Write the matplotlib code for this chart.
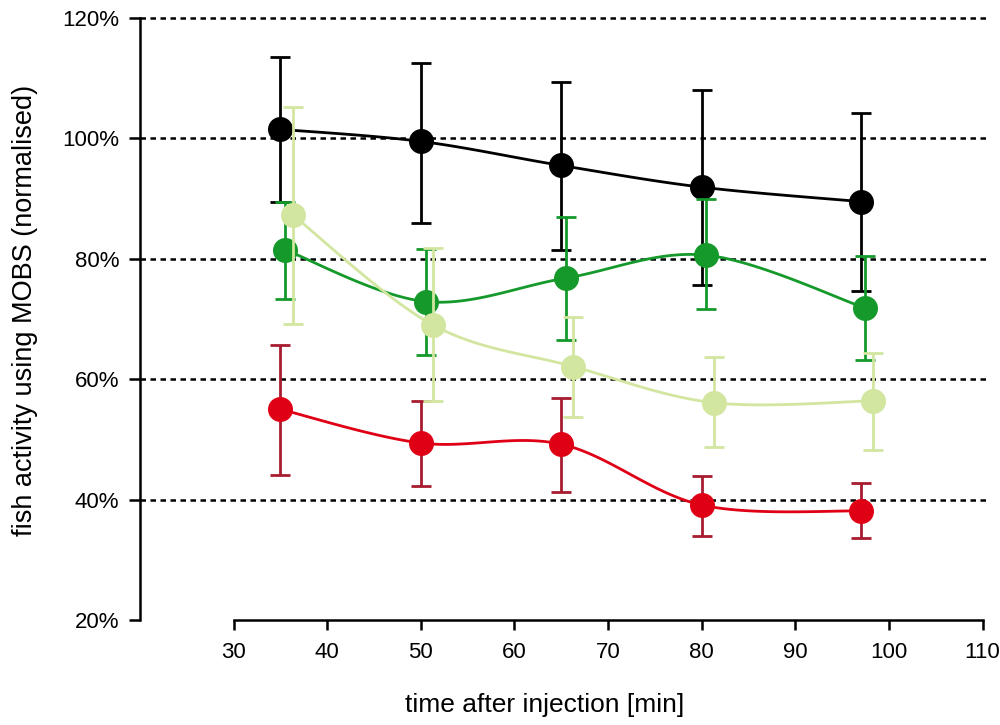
import numpy as np
import matplotlib
matplotlib.use("Agg")
import matplotlib.pyplot as plt
from matplotlib.ticker import FuncFormatter

plt.rcParams['font.family'] = ['Liberation Sans', 'DejaVu Sans']

# time after injection [min]
time_min = [35, 50, 65, 80, 97]

# fish activity (%), mean / upper / lower error bar end
black_mean = [101.5, 99.5, 95.5, 91.9, 89.5]
black_hi = [113.5, 112.6, 109.4, 108.0, 104.3]
black_lo = [89.5, 86.0, 81.5, 75.6, 74.7]

green_mean = [81.5, 72.9, 76.8, 80.6, 71.8]
green_hi = [89.5, 81.7, 87.0, 89.9, 80.4]
green_lo = [73.3, 64.0, 66.5, 71.6, 63.2]

light_mean = [87.3, 69.0, 62.1, 56.1, 56.4]
light_hi = [105.2, 81.8, 70.3, 63.7, 64.4]
light_lo = [69.2, 56.3, 53.8, 48.8, 48.2]

red_mean = [55.0, 49.4, 49.2, 39.1, 38.1]
red_hi = [65.7, 56.4, 56.9, 44.0, 42.7]
red_lo = [44.1, 42.3, 41.3, 34.0, 33.6]


def smooth(x, y, n=30):
    # bezier smoothing like a spreadsheet "smoothed line"
    x = np.asarray(x, float)
    y = np.asarray(y, float)
    xs, ys = [], []
    for i in range(len(x) - 1):
        p0 = np.array([x[max(i - 1, 0)], y[max(i - 1, 0)]])
        p1 = np.array([x[i], y[i]])
        p2 = np.array([x[i + 1], y[i + 1]])
        p3 = np.array([x[min(i + 2, len(x) - 1)], y[min(i + 2, len(x) - 1)]])
        c1 = p1 + (p2 - p0) / 6
        c2 = p2 - (p3 - p1) / 6
        t = np.linspace(0, 1, n)[:, None]
        pts = ((1 - t) ** 3) * p1 + 3 * ((1 - t) ** 2) * t * c1 + 3 * (1 - t) * t ** 2 * c2 + t ** 3 * p2
        xs.extend(pts[:, 0])
        ys.extend(pts[:, 1])
    return xs, ys


fig = plt.figure(figsize=(10, 7.25), dpi=100)
ax = fig.add_axes([0.14, 0.1448, 0.85, 0.8304])

for v in [40, 60, 80, 100, 120]:
    ax.axhline(v, color='black', lw=1.8, ls=(0, (2.2, 1.8)), zorder=1, clip_on=False)

series = [
    (black_mean, black_hi, black_lo, 0.0, 'black', 'black', 'black'),
    (green_mean, green_hi, green_lo, 0.5, '#14992a', '#14992a', '#14992a'),
    (red_mean, red_hi, red_lo, 0.0, '#e00016', '#e00016', '#a81c30'),
    (light_mean, light_hi, light_lo, 1.3, '#d2e6a0', '#d2e6a0', '#d2e6a0'),
]

for k, (m, hi, lo, dx, lc, mc, ec) in enumerate(series):
    x = np.array(time_min) + dx
    m = np.array(m)
    err = [m - np.array(lo), np.array(hi) - m]
    sx, sy = smooth(x, m)
    ax.plot(sx, sy, color=lc, lw=2, zorder=2 + k * 3)
    ax.errorbar(x, m, yerr=err, fmt='none', ecolor=ec, elinewidth=2,
                capsize=7, capthick=2, zorder=3 + k * 3)
    ax.plot(x, m, 'o', color=mc, markersize=18, markeredgewidth=0, zorder=4 + k * 3)

ax.set_xlim(20, 110.8)
ax.set_ylim(20, 120)
ax.spines['top'].set_visible(False)
ax.spines['right'].set_visible(False)
ax.spines['left'].set_bounds(20, 120)
ax.spines['bottom'].set_bounds(30, 110)
ax.spines['left'].set_linewidth(1.8)
ax.spines['bottom'].set_linewidth(1.8)

ax.set_xticks(range(30, 111, 10))
ax.set_yticks(range(20, 121, 20))
ax.yaxis.set_major_formatter(FuncFormatter(lambda v, p: f'{v:.0f}%'))
ax.tick_params(axis='both', direction='out', width=1.8, labelsize=16)
ax.tick_params(axis='y', length=8, pad=7)
ax.tick_params(axis='x', length=7, pad=9)

ax.set_xlabel('time after injection [min]', fontsize=19)
ax.set_ylabel('fish activity using MOBS (normalised)', fontsize=19.5)
ax.xaxis.set_label_coords(0.476, -0.121)
ax.yaxis.set_label_coords(-0.12, 0.515)

fig.savefig('out.png', dpi=100)
